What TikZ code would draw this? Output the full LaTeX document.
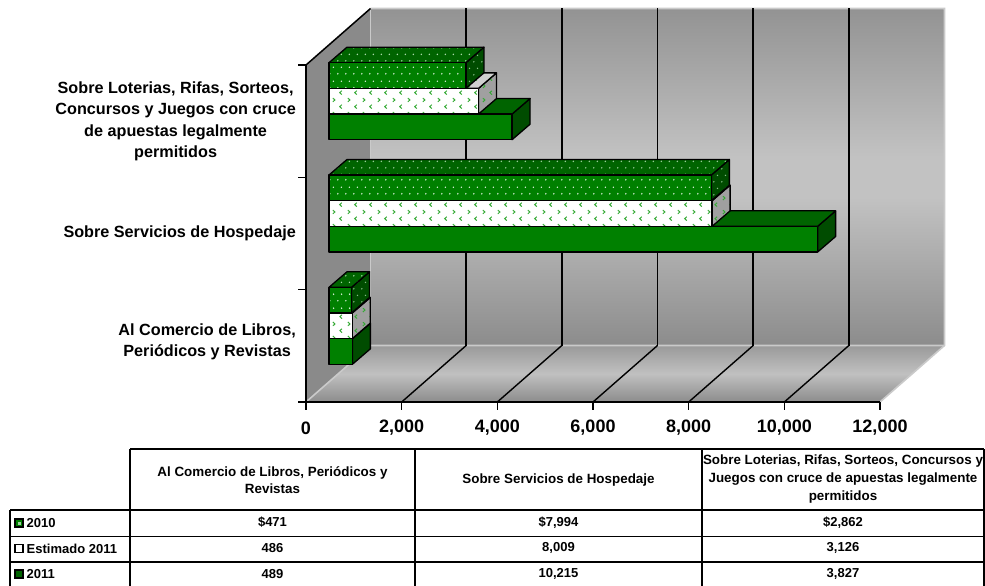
\documentclass[tikz,border=0pt]{standalone}
\usepackage{fontspec}
\setmainfont{Liberation Sans}
\usetikzlibrary{patterns}

\pgfdeclarepatternformonly{xldots}{\pgfqpoint{0pt}{0pt}}{\pgfqpoint{8pt}{13.4pt}}{\pgfqpoint{8pt}{13.4pt}}{%
  \pgfpathcircle{\pgfqpoint{2pt}{3.3pt}}{0.85pt}%
  \pgfpathcircle{\pgfqpoint{6pt}{10pt}}{0.85pt}%
  \pgfusepath{fill}}

\pgfdeclarepatternformonly{xlchev}{\pgfqpoint{0pt}{0pt}}{\pgfqpoint{15pt}{14pt}}{\pgfqpoint{15pt}{14pt}}{%
  \pgfsetlinewidth{1pt}%
  \pgfpathmoveto{\pgfqpoint{3pt}{12.5pt}}\pgfpathlineto{\pgfqpoint{5.2pt}{10.5pt}}\pgfpathlineto{\pgfqpoint{3pt}{8.5pt}}%
  \pgfpathmoveto{\pgfqpoint{12.5pt}{5.5pt}}\pgfpathlineto{\pgfqpoint{10.3pt}{3.5pt}}\pgfpathlineto{\pgfqpoint{12.5pt}{1.5pt}}%
  \pgfusepath{stroke}}

\definecolor{gF}{HTML}{008000}
\definecolor{gT}{HTML}{006400}
\definecolor{gS}{HTML}{004C00}
\definecolor{dotF}{HTML}{E2F4E2}
\definecolor{dotT}{HTML}{A8D8A8}
\definecolor{dotS}{HTML}{88BC88}
\definecolor{chev}{HTML}{35AA35}
\definecolor{eT}{HTML}{D0D0D0}
\definecolor{eS}{HTML}{A0A0A0}
\definecolor{wallL}{HTML}{8A8A8A}
\definecolor{wallT}{HTML}{939393}
\definecolor{wallM}{HTML}{C2C2C2}
\definecolor{wallB}{HTML}{8C8C8C}
\definecolor{floorT}{HTML}{9A9A9A}
\definecolor{floorM}{HTML}{C0C0C0}
\definecolor{floorB}{HTML}{8C8C8C}
\definecolor{edgeL}{HTML}{CACACA}

\pgfdeclareverticalshading{wallsh}{100bp}{color(0bp)=(wallB); color(25bp)=(wallB); color(47bp)=(wallM); color(53bp)=(wallM); color(75bp)=(wallT); color(100bp)=(wallT)}
\pgfdeclareverticalshading{floorsh}{100bp}{color(0bp)=(floorB); color(25bp)=(floorB); color(50bp)=(floorM); color(75bp)=(floorT); color(100bp)=(floorT)}

\newcommand\xlbar[7]{% #1 end x, #2 top y, #3 bottom y, #4 front, #5 top, #6 side, #7 name
  \path[#6] (#1,#2) -- (#1+18,#2-15.5) -- (#1+18,#3-15.5) -- (#1,#3) -- cycle;
  \path[#5] (329,#2) -- (347,#2-15.5) -- (#1+18,#2-15.5) -- (#1,#2) -- cycle;
  \path[#4] (329,#2) rectangle (#1,#3);
  \coordinate (#7) at (#1,#2);
}

\begin{document}
\begin{tikzpicture}[x=1pt,y=-1pt,
  bedge/.style={draw=black,line width=1.3pt,line join=round},
  bf10/.style={bedge,preaction={fill=gF},pattern=xldots,pattern color=dotF},
  bt10/.style={bedge,preaction={fill=gT},pattern=xldots,pattern color=dotT},
  bs10/.style={bedge,preaction={fill=gS},pattern=xldots,pattern color=dotS},
  bfe/.style={bedge,preaction={fill=white},pattern=xlchev,pattern color=chev},
  bte/.style={bedge,preaction={fill=eT},pattern=xlchev,pattern color=chev},
  bse/.style={bedge,preaction={fill=eS},pattern=xlchev,pattern color=chev},
  bf11/.style={bedge,fill=gF},
  bt11/.style={bedge,fill=gT},
  bs11/.style={bedge,fill=gS},
  grid/.style={draw=black,line width=1.4pt},
  lite/.style={draw=edgeL,line width=1.6pt},
  axisline/.style={draw=black,line width=1.5pt},
  axlab/.style={font=\fontsize{18}{21}\bfseries\selectfont,inner sep=0pt},
  catlab/.style={font=\fontsize{16.2}{21.5}\bfseries\selectfont,align=center,anchor=east,inner sep=0pt},
  hdr/.style={font=\fontsize{13.4}{17}\bfseries\selectfont,align=center,inner sep=0pt},
  hdrw/.style={font=\fontsize{13.4}{18.3}\bfseries\selectfont,align=center,inner sep=0pt},
  val/.style={font=\fontsize{13}{15}\bfseries\selectfont,inner sep=0pt},
  leg/.style={font=\fontsize{13}{15}\bfseries\selectfont,anchor=west,inner sep=0pt},
  tbl/.style={draw=black,line width=1.6pt},
  legmark/.style={draw=black,line width=1.2pt}
]
\useasboundingbox (0,0) rectangle (985,586);

% walls
\shade[shading=wallsh] (370.5,8.5) rectangle (944.5,345.5);
\fill[wallL] (306,65) -- (370.5,8.5) -- (370.5,345.5) -- (306,402) -- cycle;
\shade[shading=floorsh] (306,402) -- (370.5,345.5) -- (944.5,345.5) -- (880,402) -- cycle;
\draw[lite] (370.5,8.5) -- (944.5,8.5) -- (944.5,345.5) -- (880,402);
\draw[lite] (306,402) -- (370.5,345.5) -- (944.5,345.5);
\draw[lite] (370.5,8.5) -- (370.5,345.5);

% gridlines
\foreach \k in {1,...,5} {
  \draw[grid] (370.5+\k*95.667,8.5) -- (370.5+\k*95.667,345.5);
  \draw[grid] (306+\k*95.667,402) -- (370.5+\k*95.667,345.5);
}

% axes
\draw[axisline] (306,65) -- (370.5,8.5);
\draw[axisline] (306,65) -- (306,402) -- (880,402);
\foreach \y in {65,177.33,289.67,402} \draw[axisline] (298,\y) -- (306,\y);
\foreach \k in {0,...,6} \draw[axisline] (306+\k*95.667,402) -- (306+\k*95.667,410);

\node[axlab] (ax0) at (306,428) {0};
\node[axlab] (ax1) at (401.67,428) {2,000};
\node[axlab] (ax2) at (497.33,428) {4,000};
\node[axlab] (ax3) at (593,428) {6,000};
\node[axlab] (ax4) at (688.67,428) {8,000};
\node[axlab] (ax5) at (784.33,428) {10,000};
\node[axlab] (ax6) at (880,428) {12,000};

% category labels
\node[catlab] (catT) at (296,121.5) {Sobre Loterias, Rifas, Sorteos,\\Concursos y Juegos con cruce\\de apuestas legalmente\\permitidos};
\node[catlab] (catH) at (296,233.5) {Sobre Servicios de Hospedaje};
\node[catlab] (catL) at (296,342) {Al Comercio de Libros,\\Periódicos y Revistas};

% bars: Loterias
\xlbar{512.06}{114.03}{139.7}{bf11}{bt11}{bs11}{bT11}
\xlbar{478.53}{88.37}{114.03}{bfe}{bte}{bse}{bTe}
\xlbar{465.9}{62.7}{88.37}{bf10}{bt10}{bs10}{bT10}
% Hospedaje
\xlbar{817.62}{226.33}{252}{bf11}{bt11}{bs11}{bH11}
\xlbar{712.1}{200.67}{226.33}{bfe}{bte}{bse}{bHe}
\xlbar{711.38}{175}{200.67}{bf10}{bt10}{bs10}{bH10}
% Libros
\xlbar{352.39}{338.63}{364.3}{bf11}{bt11}{bs11}{bL11}
\xlbar{352.25}{312.97}{338.63}{bfe}{bte}{bse}{bLe}
\xlbar{351.53}{287.3}{312.97}{bf10}{bt10}{bs10}{bL10}

% table
\draw[tbl] (130,449) -- (984,449);
\draw[tbl] (10,510) -- (984,510);
\draw[tbl] (10,536.5) -- (984,536.5);
\draw[tbl] (10,561.7) -- (984,561.7);
\draw[tbl] (10,510) -- (10,586);
\draw[tbl] (130,449) -- (130,586);
\draw[tbl] (415,449) -- (415,586);
\draw[tbl] (702,449) -- (702,586);
\draw[tbl] (984,449) -- (984,586);

\node[hdr] (h1) at (272.5,480) {Al Comercio de Libros, Periódicos y\\Revistas};
\node[hdr] (h2) at (558.5,480) {Sobre Servicios de Hospedaje};
\node[hdrw] (h3) at (843,479) {Sobre Loterias, Rifas, Sorteos, Concursos y\\Juegos con cruce de apuestas legalmente\\permitidos};

\draw[legmark,fill=gF] (15,519) rectangle (23,527);
\fill[dotF!70!gF] (17.5,521.5) rectangle (20.5,524.5);
\draw[legmark,fill=white] (15,544.5) rectangle (23,552.5);
\draw[legmark,fill=gT] (15,570) rectangle (23,578);
\node[leg] (l1) at (26.5,523) {2010};
\node[leg] (l2) at (26.5,548.5) {Estimado 2011};
\node[leg] (l3) at (26.5,574) {2011};

\node[val] (v11) at (272.5,522.5) {\$471};
\node[val] (v12) at (558.5,522.5) {\$7,994};
\node[val] (v13) at (843,522.5) {\$2,862};
\node[val] (v21) at (272.5,548.3) {486};
\node[val] (v22) at (558.5,548.3) {8,009};
\node[val] (v23) at (843,548.3) {3,126};
\node[val] (v31) at (272.5,574.3) {489};
\node[val] (v32) at (558.5,574.3) {10,215};
\node[val] (v33) at (843,574.3) {3,827};
\end{tikzpicture}
\end{document}
